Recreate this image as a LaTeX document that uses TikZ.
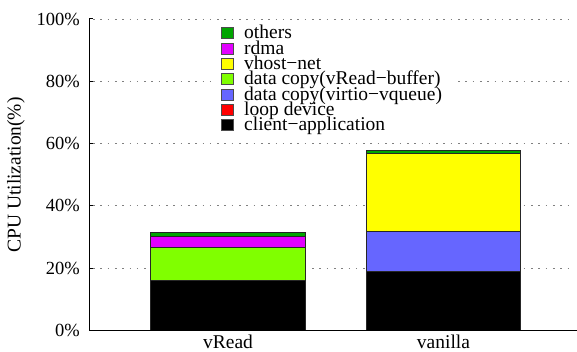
\documentclass[tikz,border=0pt]{standalone}
\usepackage{fontspec}
\setmainfont{Liberation Serif}
\definecolor{cOthers}{RGB}{0,165,0}
\definecolor{cRdma}{RGB}{226,0,255}
\definecolor{cVhost}{RGB}{255,255,0}
\definecolor{cCopyBuf}{RGB}{128,255,0}
\definecolor{cCopyVq}{RGB}{102,102,255}
\definecolor{cLoop}{RGB}{255,0,0}
\definecolor{cClient}{RGB}{0,0,0}
\tikzset{
  gridline/.style={gray, line width=0.9pt, dash pattern=on 1.6pt off 5.7pt},
  axisline/.style={black, line width=1pt},
  barseg/.style={draw=black!85, line width=0.7pt},
  keybox/.style={draw=black!70, line width=0.6pt},
  ticklabel/.style={anchor=east, inner sep=0pt, font=\fontsize{18.5}{18.5}\selectfont},
  keytext/.style={anchor=base west, inner sep=0pt, text height=10pt, text depth=3pt},
}
\begin{document}
\begin{tikzpicture}[x=1pt, y=1pt, font=\fontsize{19.5}{19.5}\selectfont]
\useasboundingbox (0,0) rectangle (577,351);

% plot area: x in points, y in percent
\begin{scope}[shift={(0,20.5)}, y=3.115pt]
  % horizontal grid
  \foreach \p in {20,40,60,80,100}
    \draw[gridline] (93,\p) -- (573,\p);

  % vRead stack
  \filldraw[barseg, fill=cClient]   (150,0)    rectangle (305.7,16.2);
  \filldraw[barseg, fill=cCopyBuf]  (150,16.2) rectangle (305.7,26.8);
  \filldraw[barseg, fill=cRdma]     (150,26.8) rectangle (305.7,30.2);
  \filldraw[barseg, fill=cOthers]   (150,30.2) rectangle (305.7,31.4);

  % vanilla stack
  \filldraw[barseg, fill=cClient]   (366.3,0)    rectangle (520.7,19.1);
  \filldraw[barseg, fill=cCopyVq]   (366.3,19.1) rectangle (520.7,31.8);
  \filldraw[barseg, fill=cVhost]    (366.3,31.8) rectangle (520.7,56.9);
  \filldraw[barseg, fill=cOthers]   (366.3,56.9) rectangle (520.7,57.9);

  % axes and ticks
  \draw[axisline] (89,100) -- (89,0) -- (577,0);
  \foreach \p in {20,40,60,80,100}
    \draw[axisline] (89,\p) -- (93,\p);

  % tick labels
  \foreach \p in {0,20,40,60,80,100}
    \node[ticklabel] (tick\p) at (80,\p) {\p\%};
\end{scope}

% key
\fill[white] (214,223) rectangle (458,327);
\foreach \i/\col/\txt in {0/cOthers/others, 1/cRdma/rdma, 2/cVhost/vhost−net,
    3/cCopyBuf/data copy(vRead−buffer), 4/cCopyVq/data copy(virtio−vqueue),
    5/cLoop/loop device, 6/cClient/client−application}{
  \pgfmathsetmacro{\cy}{317.7-15.33*\i}
  \filldraw[keybox, fill=\col] (221.5,\cy-5.5) rectangle (233.5,\cy+5.5);
  \node[keytext] (key\i) at (244,\cy-5.6) {\txt};
}

% category labels
\node[anchor=base, inner sep=0pt] (catA) at (228,3) {vRead};
\node[anchor=base, inner sep=0pt] (catB) at (443.5,3) {vanilla};

% axis title
\node[rotate=90, inner sep=0pt] (ytitle) at (16,176) {CPU Utilization(\%)};
\end{tikzpicture}
\end{document}
